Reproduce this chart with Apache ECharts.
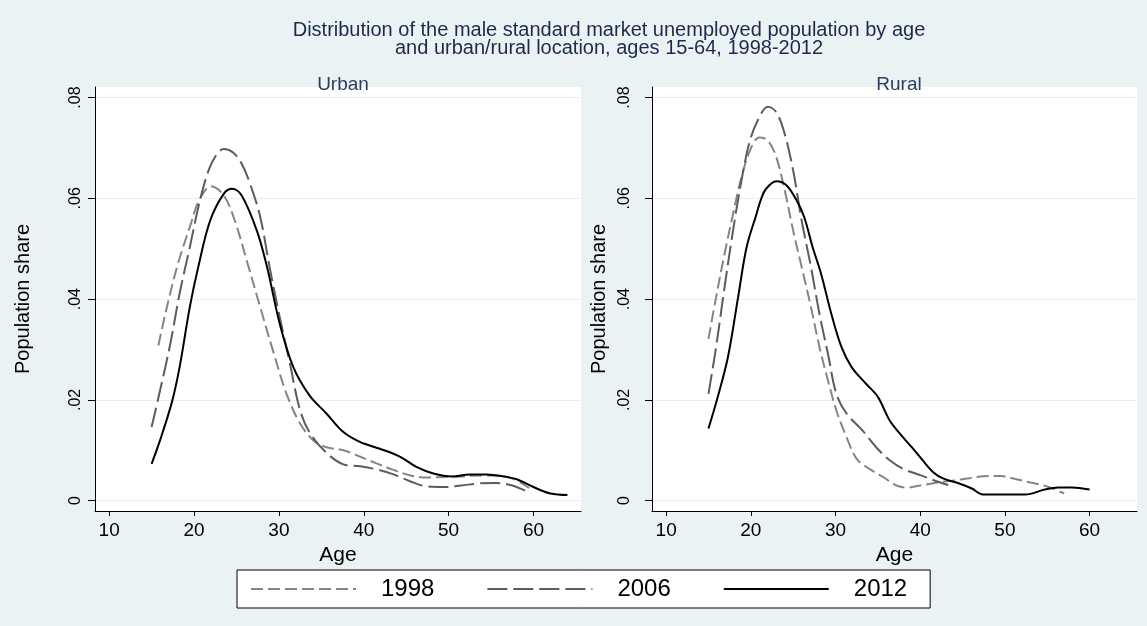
<!DOCTYPE html>
<html>
<head>
<meta charset="utf-8">
<script src="https://cdn.jsdelivr.net/npm/echarts@6/dist/echarts.min.js"></script>
<style>
  html, body { margin: 0; padding: 0; background: #eaf2f3; }
  #chart { width: 1147px; height: 626px; }
</style>
</head>
<body>
<div id="chart"></div>
<script>
// 男性失业人口年龄分布 (kdensity), 城市 / 农村
const years = ['1998', '2006', '2012']
const panels = ['Urban', 'Rural']
const ageTicks = [10, 20, 30, 40, 50, 60]
const shareTicks = [0, 0.02, 0.04, 0.06, 0.08]

// [age, share]
const urban1998 = [[15.8, 0.0308], [16.8, 0.0384], [18.1, 0.047], [19.5, 0.0543], [20.6, 0.0596], [22.0, 0.0624],
  [23.5, 0.0606], [24.8, 0.0556], [26.2, 0.0477], [27.8, 0.0384], [29.4, 0.0292], [30.9, 0.0212], [32.5, 0.0153],
  [34.1, 0.0119], [35.6, 0.0106], [37.6, 0.01], [39.6, 0.0087], [41.5, 0.0074], [43.5, 0.0061], [45.5, 0.005],
  [47.5, 0.0046], [49.5, 0.0047], [51.5, 0.0048], [53.5, 0.005], [55.5, 0.005], [57.5, 0.0044], [59.5, 0.0025]]
const urban2006 = [[15.0, 0.0146], [16.0, 0.0219], [17.2, 0.0311], [18.3, 0.0411], [19.5, 0.0503], [20.6, 0.0589],
  [21.7, 0.0655], [22.7, 0.0688], [23.5, 0.0698], [24.6, 0.0691], [25.6, 0.0669], [26.6, 0.0629], [27.8, 0.0563],
  [28.9, 0.0464], [30.1, 0.0364], [31.3, 0.0272], [32.5, 0.0179], [33.7, 0.0133], [35.6, 0.0095], [37.6, 0.0072],
  [39.6, 0.0068], [41.5, 0.0062], [43.5, 0.0052], [45.5, 0.0038], [47.5, 0.0028], [49.5, 0.0027], [51.5, 0.003],
  [53.5, 0.0034], [55.5, 0.0035], [57.5, 0.003], [59.5, 0.0016]]
const urban2012 = [[15.0, 0.0073], [16.0, 0.012], [17.4, 0.0196], [18.3, 0.0265], [19.5, 0.0384], [20.5, 0.0464],
  [21.9, 0.0556], [23.5, 0.0609], [24.5, 0.0619], [25.6, 0.0606], [27.4, 0.0536], [28.6, 0.0464], [30.1, 0.0351],
  [31.7, 0.0265], [33.6, 0.0209], [35.6, 0.0173], [37.6, 0.0136], [39.6, 0.0116], [41.9, 0.0103], [44.3, 0.0087],
  [46.2, 0.0067], [48.2, 0.0054], [50.4, 0.0048], [52.5, 0.0052], [54.5, 0.0052], [56.5, 0.0048], [58.1, 0.0042],
  [60.0, 0.0027], [62.0, 0.0014], [64.0, 0.0011]]

const rural1998 = [[15.0, 0.0321], [15.9, 0.0404], [16.9, 0.049], [17.9, 0.0569], [18.9, 0.0642], [19.9, 0.0695],
  [21.0, 0.0721], [22.0, 0.0715], [23.0, 0.0682], [24.0, 0.0616], [25.0, 0.0536], [26.0, 0.0464], [27.1, 0.0384],
  [28.1, 0.0305], [29.1, 0.0239], [30.1, 0.0179], [31.3, 0.0126], [32.5, 0.0083], [34.0, 0.0063], [35.6, 0.0047],
  [37.2, 0.003], [38.4, 0.0026], [40.0, 0.003], [42.0, 0.0036], [44.0, 0.004], [46.0, 0.0045], [48.0, 0.0049],
  [49.5, 0.0049], [51.0, 0.0044], [53.0, 0.0036], [55.0, 0.0028], [57.0, 0.0014]]
const rural2006 = [[15.0, 0.0212], [15.9, 0.0305], [16.9, 0.0424], [17.9, 0.0536], [18.9, 0.0636], [19.9, 0.0715],
  [21.0, 0.0761], [22.0, 0.0782], [23.0, 0.0771], [24.0, 0.0728], [25.0, 0.0655], [26.0, 0.0556], [27.1, 0.0464],
  [28.1, 0.0371], [29.1, 0.0292], [30.1, 0.0212], [31.3, 0.0173], [33.2, 0.0139], [34.8, 0.0106], [36.4, 0.008],
  [38.0, 0.0063], [40.1, 0.005], [41.7, 0.004], [43.3, 0.0031]]
const rural2012 = [[15.0, 0.0143], [16.1, 0.0206], [17.3, 0.0285], [18.5, 0.0404], [19.5, 0.0503], [20.6, 0.0565],
  [21.2, 0.0598], [21.8, 0.0619], [23.0, 0.0634], [24.2, 0.0626], [25.4, 0.0596], [26.3, 0.0563], [27.3, 0.0503],
  [28.3, 0.045], [29.5, 0.0371], [30.7, 0.0305], [31.9, 0.0265], [33.6, 0.0232], [35.0, 0.0206], [36.4, 0.0159],
  [37.6, 0.0133], [39.0, 0.0106], [40.3, 0.008], [41.5, 0.0057], [42.7, 0.0044], [44.6, 0.0034], [46.1, 0.0024],
  [47.4, 0.0012], [49.8, 0.0012], [52.4, 0.0012], [54.7, 0.0022], [56.3, 0.0026], [57.9, 0.0026], [60.0, 0.0022]]

const chart = echarts.init(document.getElementById('chart'))

const font = 'Liberation Sans, Arial, sans-serif'
const lineStyles = {
  '1998': { color: '#858585', width: 2, type: [12, 5] },
  '2006': { color: '#5c5c5c', width: 2, type: [20, 6] },
  '2012': { color: '#000000', width: 2, type: 'solid' }
}

function shareLabel (v) {
  if (v === 0) return '0'
  return v.toFixed(2).replace(/^0/, '')
}

function makeX (idx) {
  return {
    gridIndex: idx,
    type: 'value',
    min: 8.33,
    max: 65.6,
    name: 'Age',
    nameLocation: 'middle',
    nameGap: 19,
    nameTextStyle: { color: '#000', fontSize: 21, fontFamily: font },
    axisLine: { show: true, onZero: false, lineStyle: { color: '#000', width: 1 } },
    axisTick: { show: true, length: 5, customValues: ageTicks, lineStyle: { color: '#000' } },
    axisLabel: { customValues: ageTicks, margin: 10, color: '#000', fontSize: 19, fontFamily: font },
    splitLine: { show: false }
  }
}

function makeY (idx, labelMargin, nameGap) {
  return {
    gridIndex: idx,
    type: 'value',
    min: -0.00206,
    max: 0.0821,
    name: 'Population share',
    nameLocation: 'middle',
    nameGap: nameGap,
    nameTextStyle: { color: '#000', fontSize: 20, fontFamily: font },
    axisLine: { show: true, onZero: false, lineStyle: { color: '#000', width: 1 } },
    axisTick: { show: true, length: 7, customValues: shareTicks, lineStyle: { color: '#000' } },
    axisLabel: {
      customValues: shareTicks,
      rotate: 90,
      margin: labelMargin,
      color: '#000',
      fontSize: 16,
      fontFamily: font,
      formatter: shareLabel
    },
    splitLine: { show: true, lineStyle: { color: '#e6eef0', width: 1 } }
  }
}

const dataMap = {
  Urban: { '1998': urban1998, '2006': urban2006, '2012': urban2012 },
  Rural: { '1998': rural1998, '2006': rural2006, '2012': rural2012 }
}

const series = []
panels.forEach((p, i) => {
  years.forEach(y => {
    series.push({
      name: y,
      type: 'line',
      xAxisIndex: i,
      yAxisIndex: i,
      data: dataMap[p][y],
      smooth: 0.35,
      symbol: 'none',
      lineStyle: lineStyles[y],
      itemStyle: { color: lineStyles[y].color },
      z: y === '2012' ? 3 : 2
    })
  })
})

const option = {
  backgroundColor: '#eaf2f3',
  animation: false,
  title: [{
    text: 'Distribution of the male standard market unemployed population by age\nand urban/rural location, ages 15-64, 1998-2012',
    left: 604,
    top: 16,
    textAlign: 'center',
    textStyle: { color: '#1c2b4a', fontSize: 20, lineHeight: 18, fontWeight: 'normal', fontFamily: font }
  }, {
    text: 'Urban',
    left: 338,
    top: 70,
    textAlign: 'center',
    textStyle: { color: '#2a3d5c', fontSize: 19, fontWeight: 'normal', fontFamily: font }
  }, {
    text: 'Rural',
    left: 894,
    top: 70,
    textAlign: 'center',
    textStyle: { color: '#2a3d5c', fontSize: 19, fontWeight: 'normal', fontFamily: font }
  }],
  legend: {
    data: years,
    left: 237,
    top: 570,
    padding: [7, 23, 7, 13],
    backgroundColor: '#fff',
    borderColor: '#000',
    borderWidth: 1,
    borderRadius: 0,
    itemWidth: 105,
    itemHeight: 2,
    itemGap: 52,
    textStyle: { color: '#000', fontSize: 24, fontFamily: font, padding: [0, 0, 0, 20] }
  },
  grid: [
    { left: 95, top: 87, width: 486, height: 424, show: true, backgroundColor: '#fff', borderWidth: 0 },
    { left: 652, top: 87, width: 485, height: 424, show: true, backgroundColor: '#fff', borderWidth: 0 }
  ],
  xAxis: [makeX(0), makeX(1)],
  yAxis: [makeY(0, 11, 62), makeY(1, 19, 43)],
  series: series
}

chart.setOption(option)
</script>
</body>
</html>
